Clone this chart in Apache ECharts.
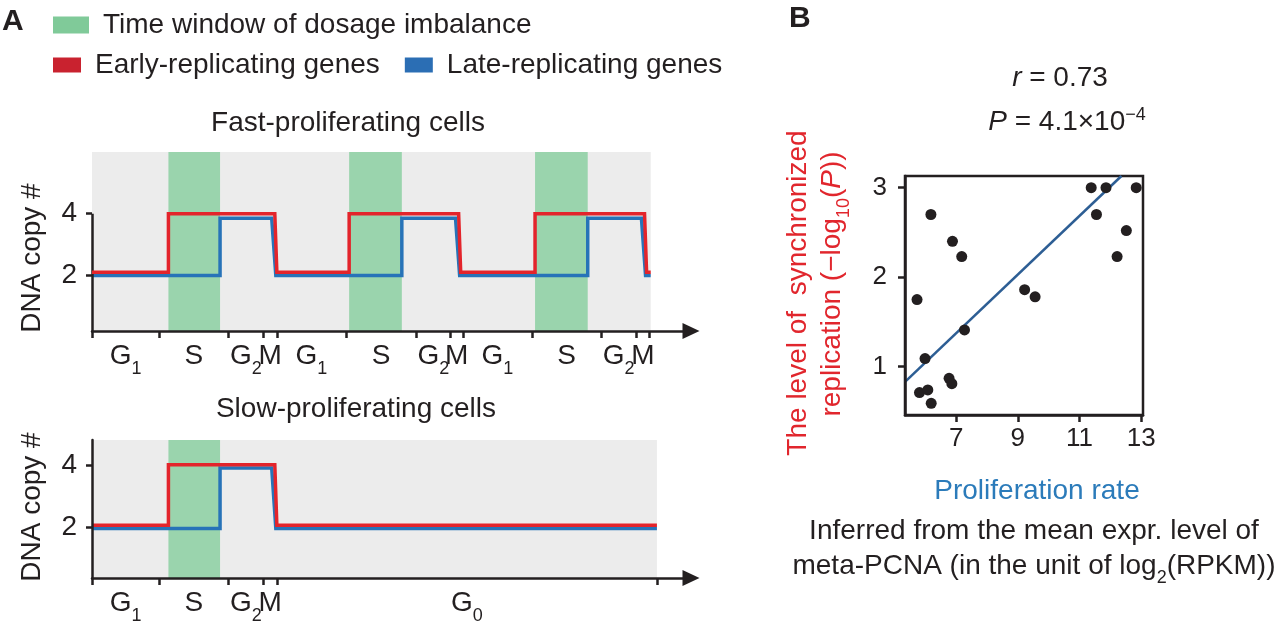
<!DOCTYPE html>
<html><head><meta charset="utf-8">
<script src="https://cdn.jsdelivr.net/npm/echarts@6/dist/echarts.min.js"></script>
<style>html,body{margin:0;padding:0;background:#fff}#c{width:1280px;height:628px}</style>
</head><body><div id="c"></div>
<script>
// ---------- data ----------
const fastPhaseBounds = [0, 6.5, 13.2, 16.6, 17.9, 24.6, 31.4, 34.7, 35.9, 42.6, 49.3, 52.7, 54.0];
const fastPhaseNames  = ['G1','S','G2','M','G1','S','G2','M','G1','S','G2','M'];
const slowPhaseBounds = [0, 6.5, 13.2, 16.6, 17.9, 54.7];
const slowPhaseNames  = ['G1','S','G2','M','G0'];
const fastWindows = [[7.4, 12.4], [24.9, 30.0], [42.9, 48.0]];
const slowWindows = [[7.4, 12.4]];
const fastSpan = [0, 54.1];
const slowSpan = [0, 54.7];
const fastEarly = [[0,2.1],[7.4,2.1],[7.4,4],[17.7,4],[17.9,2.1],[24.9,2.1],[24.9,4],[35.5,4],[35.7,2.1],[42.9,2.1],[42.9,4],[53.5,4],[53.7,2.1],[54.1,2.1]];
const fastLate  = [[0,2],[12.4,2],[12.4,3.85],[17.4,3.85],[17.8,2],[30.0,2],[30.0,3.85],[35.2,3.85],[35.6,2],[48.0,2],[48.0,3.85],[53.2,3.85],[53.6,2],[54.1,2]];
const slowEarly = [[0,2.05],[7.4,2.05],[7.4,4],[17.7,4],[17.9,2.05],[54.7,2.05]];
const slowLate  = [[0,1.95],[12.4,1.95],[12.4,3.9],[17.4,3.9],[17.8,1.95],[54.7,1.95]];
const copyTicks = [2, 4];

const prolifRate = [5.73, 6.18, 6.88, 7.18, 7.27, 5.99, 5.81, 6.08, 6.19, 6.77, 6.86, 9.22, 9.56, 11.38, 11.86, 11.55, 12.84, 12.52, 12.22];
const syncLevel  = [1.75, 2.70, 2.40, 2.23, 1.41, 1.09, 0.71, 0.74, 0.59, 0.87, 0.81, 1.86, 1.78, 3.00, 3.00, 2.70, 3.00, 2.52, 2.23];
const fitLine = [[5.34, 0.83], [12.36, 3.13]];
const rateTicks = [7, 9, 11, 13];
const levelTicks = [1, 2, 3];

// ---------- styles ----------
const FF = '"Liberation Sans", Arial, Helvetica, sans-serif';
const INK = '#231f20';
const RED = '#e3242b';
const BLUE = '#2773b8';
const GREEN = '#9ad4ad';
const GRAY = '#ececec';
const TITLE_RED = '#e1262d';
const TITLE_BLUE = '#2b7bba';
const AXIS_END_PAD = 57.6; // blank label slot near the arrow, keeps the last phase label visible

function mids(bounds) { return bounds.slice(0, -1).map((b, i) => (b + bounds[i + 1]) / 2); }
function phaseRich(name) { const m = name.match(/^G(\d)$/); return m ? '{m|G}{s|' + m[1] + '}' : '{m|' + name + '}'; }
function labelMap(bounds, names) { const mp = {}; mids(bounds).forEach((v, i) => { mp[v.toFixed(4)] = phaseRich(names[i]); }); return mp; }
const fastMap = labelMap(fastPhaseBounds, fastPhaseNames);
const slowMap = labelMap(slowPhaseBounds, slowPhaseNames);
const phaseLabelRich = {
  m: {fontSize: 28, color: INK, fontFamily: FF, lineHeight: 46},
  s: {fontSize: 18, color: INK, fontFamily: FF, lineHeight: 20, padding: [26, 0, 0, 0]}
};
const axLine = {color: INK, width: 2.5};

function timeAxis(grid, bounds, map) {
  return {
    gridIndex: grid, type: 'value', min: 0, max: 58, z: 10,
    axisLine: {show: true, symbol: ['none', 'triangle'], symbolSize: [16, 17], lineStyle: axLine},
    axisTick: {show: true, customValues: bounds, length: 7, lineStyle: axLine},
    axisLabel: {show: true, customValues: mids(bounds).concat([AXIS_END_PAD]), margin: 2,
      formatter: v => map[v.toFixed(4)] || ' ', rich: phaseLabelRich},
    splitLine: {show: false}
  };
}
function copyAxis(grid, min, max, showLine) {
  return {
    gridIndex: grid, type: 'value', min: min, max: max, z: 10,
    axisLine: {show: showLine, lineStyle: axLine},
    axisTick: {show: true, customValues: copyTicks, length: 6, lineStyle: axLine},
    axisLabel: {show: true, customValues: copyTicks, fontSize: 28, color: INK, fontFamily: FF, margin: 15},
    splitLine: {show: false}
  };
}
function bgSeries(xi, span) {
  return {type: 'line', name: 'bg', xAxisIndex: xi, yAxisIndex: xi, data: [], z: 1, silent: true,
    markArea: {silent: true, label: {show: false}, itemStyle: {color: GRAY, opacity: 1}, emphasis: {disabled: true},
      data: [[{xAxis: span[0]}, {xAxis: span[1]}]]}};
}
function windowSeries(xi, wins) {
  return {type: 'line', name: 'Time window of dosage imbalance', xAxisIndex: xi, yAxisIndex: xi, data: [], z: 2, silent: true,
    itemStyle: {color: GREEN}, lineStyle: {color: GREEN},
    markArea: {silent: true, label: {show: false}, itemStyle: {color: GREEN, opacity: 1}, emphasis: {disabled: true},
      data: wins.map(w => [{xAxis: w[0]}, {xAxis: w[1]}])}};
}
function stepSeries(xi, name, data, color, z) {
  return {type: 'line', name: name, xAxisIndex: xi, yAxisIndex: xi, data: data, z: z, symbol: 'none', silent: true,
    itemStyle: {color: color}, lineStyle: {color: color, width: 3.5, join: 'miter'}};
}

function gtext(x, y, text, style, rot) {
  return {type: 'text', x: x, y: y, rotation: rot || 0, silent: true,
    style: Object.assign({text: text, fontSize: 28, fontFamily: FF, fill: INK, align: 'center', verticalAlign: 'middle'}, style || {})};
}

const chart = echarts.init(document.getElementById('c'), null, {renderer: 'canvas'});
const option = {
  animation: false,
  textStyle: {fontFamily: FF},
  legend: [
    {data: [{name: 'Time window of dosage imbalance', itemStyle: {color: '#80ca99'}}],
     left: 53, top: 11, padding: 0, icon: 'rect', itemWidth: 36, itemHeight: 17, selectedMode: false,
     textStyle: {fontSize: 28, color: INK, fontFamily: FF, padding: [0, 0, 0, 9]}},
    {data: [{name: 'Early-replicating genes', itemStyle: {color: '#c9222f'}}, {name: 'Late-replicating genes', itemStyle: {color: '#2b6eb4'}}],
     left: 53, top: 51, padding: 0, icon: 'rect', itemWidth: 28, itemHeight: 15, itemGap: 25, selectedMode: false,
     textStyle: {fontSize: 28, color: INK, fontFamily: FF, padding: [0, 0, 0, 9]}}
  ],
  grid: [
    {left: 92, top: 152, width: 599, height: 179},
    {left: 92, top: 440, width: 599, height: 138},
    {left: 905, top: 176, width: 238, height: 239, show: true, borderColor: INK, borderWidth: 2.5, backgroundColor: 'transparent'}
  ],
  xAxis: [
    timeAxis(0, fastPhaseBounds, fastMap),
    timeAxis(1, slowPhaseBounds, slowMap),
    {gridIndex: 2, type: 'value', min: 5.34, max: 13.06, z: 10,
     axisLine: {show: true, lineStyle: axLine},
     axisTick: {show: true, customValues: rateTicks, length: 7, lineStyle: axLine},
     axisLabel: {show: true, customValues: rateTicks, fontSize: 26, color: INK, fontFamily: FF, margin: 11},
     splitLine: {show: false}}
  ],
  yAxis: [
    copyAxis(0, 0.2, 6, false),
    copyAxis(1, 0.35, 4.8, true),
    {gridIndex: 2, type: 'value', min: 0.46, max: 3.13, z: 10,
     axisLine: {show: true, lineStyle: axLine},
     axisTick: {show: true, customValues: levelTicks, length: 7, lineStyle: axLine},
     axisLabel: {show: true, customValues: levelTicks, fontSize: 26, color: INK, fontFamily: FF, margin: 18},
     splitLine: {show: false}}
  ],
  series: [
    bgSeries(0, fastSpan),
    bgSeries(1, slowSpan),
    windowSeries(0, fastWindows),
    windowSeries(1, slowWindows),
    stepSeries(0, 'Late-replicating genes', fastLate, BLUE, 4),
    stepSeries(0, 'Early-replicating genes', fastEarly, RED, 5),
    stepSeries(1, 'Late-replicating genes', slowLate, BLUE, 4),
    stepSeries(1, 'Early-replicating genes', slowEarly, RED, 5),
    {type: 'line', name: 'yline', xAxisIndex: 0, yAxisIndex: 0, data: [], z: 10, silent: true,
     markLine: {silent: true, symbol: ['none', 'none'], label: {show: false}, emphasis: {disabled: true},
       lineStyle: {color: INK, width: 2.5, type: 'solid'},
       data: [[{coord: [0, 0.2]}, {coord: [0, copyTicks[copyTicks.length - 1]]}]]}},
    {type: 'line', name: 'fit', xAxisIndex: 2, yAxisIndex: 2, data: fitLine, symbol: 'none', z: 3, silent: true,
     lineStyle: {color: '#2d5e94', width: 2.5}, itemStyle: {color: '#2d5e94'}},
    {type: 'scatter', name: 'samples', xAxisIndex: 2, yAxisIndex: 2, z: 5, silent: true,
     data: prolifRate.map((x, i) => [x, syncLevel[i]]), symbolSize: 11, itemStyle: {color: INK, opacity: 1}}
  ],
  graphic: [
    gtext(2, 7, 'A', {fontSize: 30, fontWeight: 'bold', align: 'left', verticalAlign: 'top'}),
    gtext(789, 4, 'B', {fontSize: 30, fontWeight: 'bold', align: 'left', verticalAlign: 'top'}),
    gtext(348, 123, 'Fast-proliferating cells'),
    gtext(356, 409, 'Slow-proliferating cells'),
    gtext(32, 258, 'DNA copy #', {}, Math.PI / 2),
    gtext(32, 507, 'DNA copy #', {}, Math.PI / 2),
    gtext(1060, 78, '{i|r}{n| = 0.73}', {rich: {
      i: {fontSize: 28, fontStyle: 'italic', fontFamily: FF, fill: INK},
      n: {fontSize: 28, fontFamily: FF, fill: INK}}}),
    gtext(1067, 122, '{i|P}{n| = 4.1×10}{p|−4}', {rich: {
      i: {fontSize: 28, fontStyle: 'italic', fontFamily: FF, fill: INK},
      n: {fontSize: 28, fontFamily: FF, fill: INK},
      p: {fontSize: 18, fontFamily: FF, fill: INK, padding: [0, 0, 14, 0]}}}),
    gtext(798, 293, 'The level of  synchronized', {fill: TITLE_RED}, Math.PI / 2),
    gtext(832, 284, '{n|replication (−log}{s|10}{n|(}{i|P}{n|))}', {rich: {
      n: {fontSize: 28, fontFamily: FF, fill: TITLE_RED},
      i: {fontSize: 28, fontStyle: 'italic', fontFamily: FF, fill: TITLE_RED},
      s: {fontSize: 18, fontFamily: FF, fill: TITLE_RED, padding: [24, 0, 0, 0]}}}, Math.PI / 2),
    gtext(1037, 491, 'Proliferation rate', {fill: TITLE_BLUE}),
    gtext(1034, 531, 'Inferred from the mean expr. level of'),
    gtext(1034, 566, '{n|meta-PCNA (in the unit of log}{s|2}{n|(RPKM))}', {rich: {
      n: {fontSize: 28, fontFamily: FF, fill: INK},
      s: {fontSize: 18, fontFamily: FF, fill: INK, padding: [24, 0, 0, 0]}}})
  ]
};
chart.setOption(option);
</script>
</body></html>
